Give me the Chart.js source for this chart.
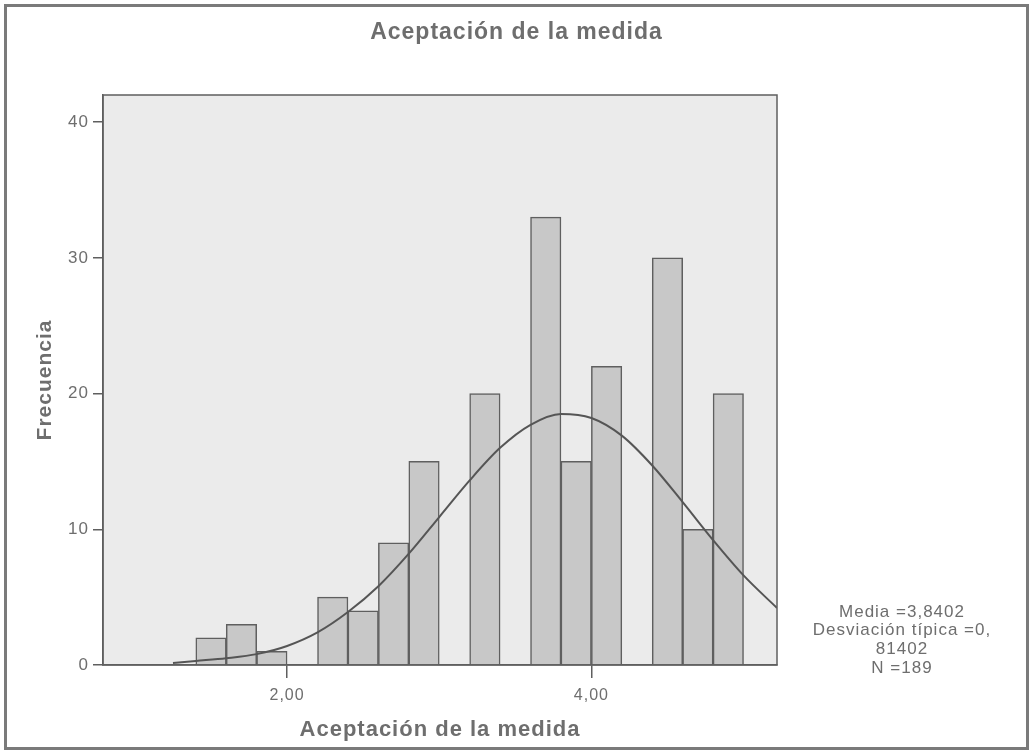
<!DOCTYPE html>
<html>
<head>
<meta charset="utf-8">
<script src="https://cdn.jsdelivr.net/npm/chart.js@4.4.1/dist/chart.umd.min.js"></script>
<style>
  html, body { margin: 0; padding: 0; background: #fff; }
  #wrap { width: 1033px; height: 753px; }
</style>
</head>
<body>
<div id="wrap"><canvas id="hist"></canvas></div>
<script>
// Centros de las barras (ancho 0,2) y frecuencias
const binCenters = [1.5, 1.7, 1.9, 2.3, 2.5, 2.7, 2.9, 3.3, 3.7, 3.9, 4.1, 4.5, 4.7, 4.9];
const frequencies = [2, 3, 1, 5, 4, 9, 15, 20, 33, 15, 22, 30, 10, 20];

// Curva normal
const curveX = [1.25, 1.4, 1.6, 1.8, 2.0, 2.2, 2.4, 2.6, 2.8, 3.0, 3.2, 3.4, 3.6, 3.8, 4.0, 4.2, 4.4, 4.6, 4.8, 5.0, 5.22];
const curveY = [0.15, 0.3, 0.5, 0.8, 1.4, 2.4, 3.9, 5.8, 8.2, 10.9, 13.6, 16.0, 17.7, 18.5, 18.2, 16.9, 14.7, 12.0, 9.2, 6.6, 4.2];

const xTicks = [2, 4];
const yTicks = [0, 10, 20, 30, 40];

const statsLines = ['Media =3,8402', 'Desviación típica =0,', '81402', 'N =189'];

const FONT = "'Liberation Sans', Arial, sans-serif";
const GREY_TEXT = '#6e6e6e';
const LINE = '#5f5f5f';

// Fondo, marco exterior, área del gráfico y texto de estadísticos
const framePlugin = {
  id: 'frame',
  beforeLayout(chart) {
    chart.ctx.letterSpacing = '1px';
  },
  beforeDraw(chart) {
    const { ctx, chartArea: a } = chart;
    ctx.letterSpacing = '1px';
    ctx.save();
    ctx.fillStyle = '#fff';
    ctx.fillRect(0, 0, chart.width, chart.height);
    ctx.strokeStyle = '#7a7a7a';
    ctx.lineWidth = 3;
    ctx.strokeRect(5.5, 5.5, chart.width - 11, chart.height - 10);
    ctx.fillStyle = '#ebebeb';
    ctx.fillRect(a.left, a.top, a.right - a.left, a.bottom - a.top);
    ctx.restore();
  },
  afterDraw(chart) {
    const { ctx, chartArea: a } = chart;
    ctx.save();
    ctx.strokeStyle = LINE;
    ctx.lineWidth = 1.5;
    ctx.strokeRect(a.left, a.top, a.right - a.left, a.bottom - a.top);
    ctx.fillStyle = GREY_TEXT;
    ctx.font = '17px ' + FONT;
    ctx.textAlign = 'center';
    ctx.textBaseline = 'middle';
    statsLines.forEach((t, i) => ctx.fillText(t, 902, 612 + i * 18.7));
    ctx.restore();
  }
};

new Chart(document.getElementById('hist'), {
  data: {
    datasets: [
      {
        type: 'line',
        data: curveX.map((x, i) => ({ x: x, y: curveY[i] })),
        borderColor: '#555',
        borderWidth: 2,
        pointRadius: 0,
        cubicInterpolationMode: 'monotone',
        fill: false,
        clip: 0
      },
      {
        type: 'bar',
        data: binCenters.map((x, i) => ({ x: x, y: frequencies[i] })),
        backgroundColor: '#c8c8c8',
        borderColor: LINE,
        borderWidth: 1.5,
        barPercentage: 1,
        categoryPercentage: 1
      }
    ]
  },
  options: {
    responsive: true,
    maintainAspectRatio: false,
    animation: false,
    layout: { padding: 0 },
    plugins: {
      legend: { display: false },
      tooltip: { enabled: false },
      title: {
        display: true,
        text: 'Aceptación de la medida',
        color: GREY_TEXT,
        font: { family: FONT, size: 23, weight: 'bold', lineHeight: 1.2 },
        padding: { top: 19, bottom: 48.4 }
      }
    },
    scales: {
      x: {
        type: 'linear',
        min: 0.79,
        max: 5.22,
        offset: false,
        afterFit(scale) { scale.height = 88; },
        afterBuildTicks(scale) { scale.ticks = xTicks.map(v => ({ value: v })); },
        grid: { offset: false, drawOnChartArea: false, drawTicks: true, tickLength: 13, color: LINE, lineWidth: 1.5 },
        border: { display: true, color: LINE, width: 1.5 },
        ticks: {
          color: GREY_TEXT,
          padding: 8,
          font: { family: FONT, size: 16 },
          callback: v => v.toFixed(2).replace('.', ',')
        },
        title: {
          display: true,
          text: 'Aceptación de la medida',
          color: GREY_TEXT,
          font: { family: FONT, size: 22, weight: 'bold', lineHeight: 1.2 },
          padding: { top: 0, bottom: 10 }
        }
      },
      y: {
        min: 0,
        max: 42,
        afterFit(scale) { scale.width = 103; },
        afterBuildTicks(scale) { scale.ticks = yTicks.map(v => ({ value: v })); },
        grid: { drawOnChartArea: false, drawTicks: true, tickLength: 10, color: LINE, lineWidth: 1.5 },
        border: { display: true, color: LINE, width: 1.5 },
        ticks: {
          color: GREY_TEXT,
          padding: 4,
          font: { family: FONT, size: 17 }
        },
        title: {
          display: true,
          text: 'Frecuencia',
          color: GREY_TEXT,
          font: { family: FONT, size: 21, weight: 'bold', lineHeight: 1.2 },
          padding: { top: 33, bottom: 0 }
        }
      },
      // eje invisible que reserva el hueco de la derecha
      hueco: {
        type: 'linear',
        position: 'right',
        min: 0,
        max: 1,
        afterFit(scale) { scale.width = 256; },
        grid: { display: false },
        border: { display: false },
        ticks: { display: false }
      }
    }
  },
  plugins: [framePlugin]
});
</script>
</body>
</html>
